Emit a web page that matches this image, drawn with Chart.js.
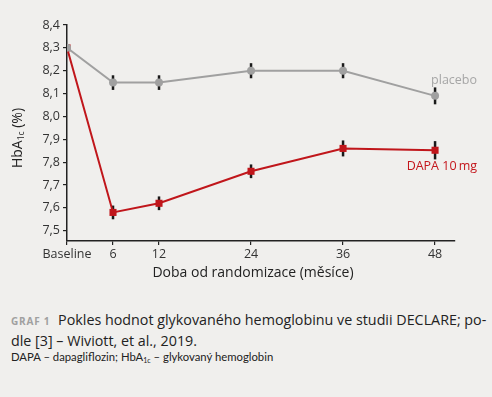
<!DOCTYPE html>
<html>
<head>
<meta charset="utf-8">
<script src="https://cdn.jsdelivr.net/npm/chart.js@4"></script>
<style>
  html, body { margin: 0; padding: 0; background: #f0efed; }
  #wrap { position: relative; width: 492px; height: 290px; }
  .cap { position: absolute; left: 11px; font-family: "Open Sans", sans-serif; color: #222; }
  #cap1 { top: 310px; font-size: 14.3px; line-height: 19px; }
  #cap1 b { color: #a0a0a0; font-size: 10px; letter-spacing: 0.8px; margin-right: 4px; }
  #cap2 { top: 350px; font-family: Lato, sans-serif; font-size: 11.3px; }
  sub { font-size: 7px; vertical-align: -2px; }
</style>
</head>
<body>
<div id="wrap"><canvas id="myChart" width="492" height="290"></canvas></div>
<div class="cap" id="cap1"><b>GRAF 1</b> Pokles hodnot glykovaného hemoglobinu ve studii DECLARE; po-<br>dle [3] – Wiviott, et al., 2019.</div>
<div class="cap" id="cap2">DAPA – dapagliflozin; HbA<sub>1c</sub> – glykovaný hemoglobin</div>
<script>
let months = [0, 6, 12, 24, 36, 48];
let xTickLabels = ["Baseline", "6", "12", "24", "36", "48"];
let yTicks = [7.5, 7.6, 7.7, 7.8, 7.9, 8.0, 8.1, 8.2, 8.3, 8.4];
let placebo = [8.30, 8.148, 8.148, 8.20, 8.20, 8.09];
let placeboErr = [0, 0.032, 0.032, 0.033, 0.033, 0.037];
let dapa = [8.30, 7.58, 7.62, 7.76, 7.86, 7.852];
let dapaErr = [0, 0.03, 0.03, 0.03, 0.035, 0.04];

let errorBars = {
  id: "errorBars",
  beforeDatasetsDraw(chart) {
    let ctx = chart.ctx, x = chart.scales.x, y = chart.scales.y;
    ctx.save();
    ctx.strokeStyle = "#1a1a1a";
    ctx.lineWidth = 2.5;
    [[placebo, placeboErr], [dapa, dapaErr]].forEach(([vals, errs]) => {
      vals.forEach((v, i) => {
        if (!errs[i]) return;
        let px = x.getPixelForValue(months[i]);
        ctx.beginPath();
        ctx.moveTo(px, y.getPixelForValue(v + errs[i]));
        ctx.lineTo(px, y.getPixelForValue(v - errs[i]));
        ctx.stroke();
      });
    });
    ctx.restore();
  },
  afterDraw(chart) {
    let ctx = chart.ctx, x = chart.scales.x, y = chart.scales.y;
    ctx.save();
    // series labels
    ctx.font = "12.5px 'Open Sans'";
    ctx.textAlign = "right";
    ctx.textBaseline = "middle";
    ctx.fillStyle = "#a6a6a6";
    ctx.fillText("placebo", 477, y.getPixelForValue(placebo[5]) - 15);
    ctx.fillStyle = "#c4161c";
    ctx.fillText("DAPA 10\u2009mg", 477, y.getPixelForValue(dapa[5]) + 16);
    // x title
    ctx.fillStyle = "#222";
    ctx.textAlign = "center";
    ctx.font = "14px 'Open Sans'";
    ctx.fillText("Doba od randomizace (měsíce)", 253, 273);
    // y title with subscript
    ctx.translate(18, 138);
    ctx.rotate(-Math.PI / 2);
    ctx.textAlign = "left";
    let a = "HbA", s = "1c", b = " (%)";
    ctx.font = "14px 'Open Sans'";
    let wa = ctx.measureText(a).width, wb = ctx.measureText(b).width;
    ctx.font = "8.5px 'Open Sans'";
    let ws = ctx.measureText(s).width;
    let start = -(wa + ws + wb) / 2;
    ctx.font = "14px 'Open Sans'";
    ctx.fillText(a, start, 0);
    ctx.font = "8.5px 'Open Sans'";
    ctx.fillText(s, start + wa, 4);
    ctx.font = "14px 'Open Sans'";
    ctx.fillText(b, start + wa + ws, 0);
    ctx.restore();
  }
};

let chartEl = document.getElementById("myChart").getContext("2d");
let hbChart = new Chart(chartEl, {
  type: "line",
  data: {
    datasets: [
      {
        label: "placebo",
        data: months.map((m, i) => ({ x: m, y: placebo[i] })),
        borderColor: "#a0a0a0",
        backgroundColor: "#a0a0a0",
        borderWidth: 2,
        pointStyle: "circle",
        pointRadius: 4,
        pointBorderWidth: 0,
      },
      {
        label: "DAPA 10 mg",
        data: months.map((m, i) => ({ x: m, y: dapa[i] })),
        borderColor: "#c0161b",
        backgroundColor: "#c0161b",
        borderWidth: 2,
        pointStyle: "rect",
        pointRadius: 5,
        pointBorderWidth: 0,
      },
    ],
  },
  plugins: [errorBars],
  options: {
    responsive: false,
    animation: false,
    layout: { padding: { top: 25, right: 37, left: 0, bottom: 0 } },
    plugins: { legend: { display: false }, tooltip: { enabled: false } },
    scales: {
      x: {
        type: "linear",
        min: 0,
        max: 50.6,
        afterBuildTicks: (scale) => { scale.ticks = months.map((v) => ({ value: v })); },
        afterFit: (scale) => { scale.height = 49; },
        grid: { display: true, drawOnChartArea: false, drawTicks: true, tickLength: 4, color: "#222", lineWidth: 1.2 },
        border: { color: "#222", width: 1.5 },
        ticks: {
          color: "#333",
          font: { family: "Open Sans", size: 12.5 },
          padding: 2,
          maxRotation: 0,
          callback: (v) => xTickLabels[months.indexOf(v)],
        },
      },
      y: {
        min: 7.455,
        max: 8.4,
        afterBuildTicks: (scale) => { scale.ticks = yTicks.map((v) => ({ value: v })); },
        afterFit: (scale) => { scale.width = 67; },
        grid: { display: true, drawOnChartArea: false, drawTicks: true, tickLength: 4, color: "#222", lineWidth: 1.2 },
        border: { color: "#222", width: 1.5 },
        ticks: {
          color: "#333",
          font: { family: "Open Sans", size: 12.5 },
          padding: 3,
          callback: (v) => v.toFixed(1).replace(".", ","),
        },
      },
    },
  },
});
</script>
</body>
</html>
